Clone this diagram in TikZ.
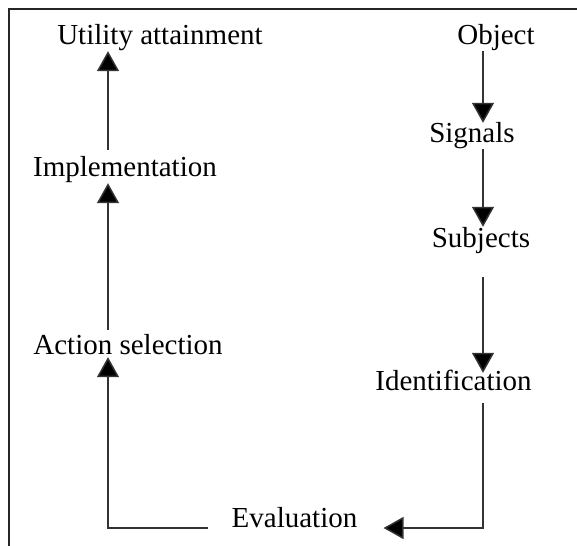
\documentclass[tikz,border=0pt]{standalone}
\usepackage{fontspec}
\setmainfont{Liberation Serif}
\usepackage{tikz}
\usetikzlibrary{arrows.meta}
\usetikzlibrary{calc,positioning}

\begin{document}
\begin{tikzpicture}[x=1pt, y=-1pt,
    stage/.style={inner sep=0pt, anchor=base, text height=20pt, text depth=6pt,
    font=\fontsize{29}{34}\selectfont, text=black},
    flow/.style={line width=1.5pt, draw=black!80, -{Triangle[length=20pt, width=22pt, fill=black]}},
    frame/.style={line width=2pt, draw=black!85}]
    \useasboundingbox (0,0) rectangle (577,545);
    \draw[frame] (9,546) -- (9,9) -- (578,9);

    \coordinate (lcol) at (108,0);
    \coordinate (rcol) at (483,0);

    % left column
    \node (util) [stage] at (160,45) {Utility attainment};
    \node (impl) [stage] at (125,177) {Implementation};
    \node (act) [stage] at (128,354) {Action selection};
    \node (eval) [stage] at (294.5,527) {Evaluation};

    % right column
    \node (obj) [stage] at (496,45) {Object};
    \node (sig) [stage] at (472,143) {Signals};
    \node (subj) [stage] at (481,247) {Subjects};
    \node (ident) [stage] at (453.5,390) {Identification};

    \draw[flow] (obj.south -| rcol) -- (sig.north -| rcol);
    \draw[flow] (sig.south -| rcol) -- (subj.north -| rcol);
    \draw[flow] ([yshift=-24pt]subj.south -| rcol) -- ([yshift=-3pt]ident.north -| rcol);
    \draw[flow] ([yshift=-7pt]ident.south -| rcol) -- ([yshift=-1pt]eval.base -| rcol) -- ([xshift=26pt,yshift=-1pt]eval.base east);
    \draw[flow] ([xshift=-23pt,yshift=-1pt]eval.base west) -- ([yshift=-1pt]eval.base -| lcol) -- ([yshift=3pt]act.south -| lcol);
    \draw[flow] ([yshift=4pt]act.north -| lcol) -- (impl.south -| lcol);
    \draw[flow] ([yshift=7pt]impl.north -| lcol) -- (util.south -| lcol);
\end{tikzpicture}
\end{document}
